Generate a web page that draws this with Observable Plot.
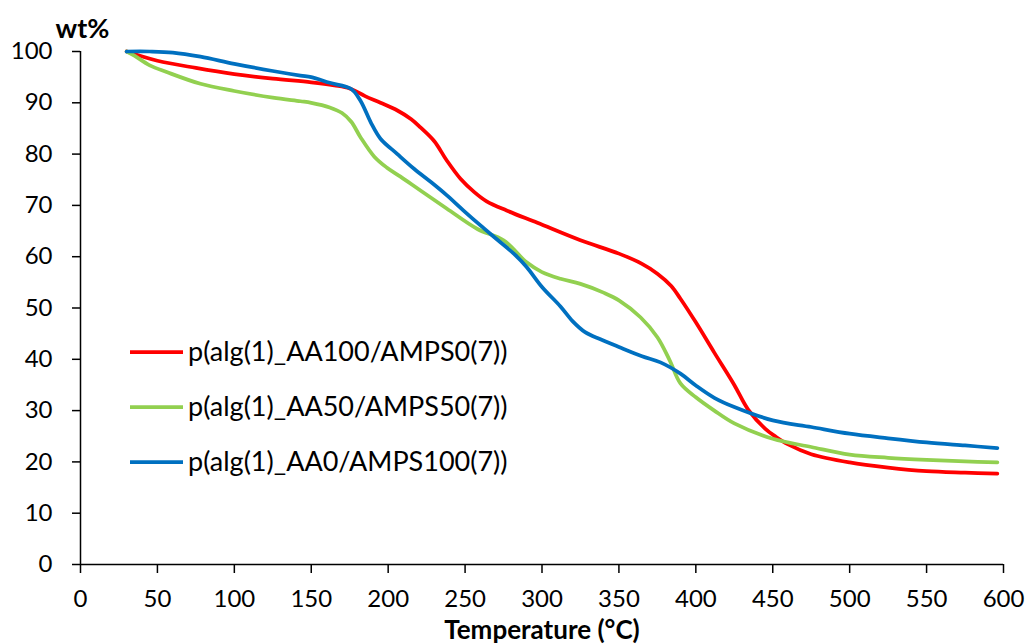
<!DOCTYPE html>
<html><head><meta charset="utf-8">
<script src="https://cdn.jsdelivr.net/npm/d3@7"></script>
<script src="https://cdn.jsdelivr.net/npm/@observablehq/plot@0.6"></script>
<style>body{margin:0;background:#fff} #chart{width:1027px;height:644px}</style>
</head><body><div id="chart"></div>
<script>
const seriesNames = ["p(alg(1)_AA100/AMPS0(7))", "p(alg(1)_AA50/AMPS50(7))", "p(alg(1)_AA0/AMPS100(7))"];
const colors = ["#FF0000", "#92D050", "#0070C0"];
const xTicks = [0, 50, 100, 150, 200, 250, 300, 350, 400, 450, 500, 550, 600];
const yTicks = [0, 10, 20, 30, 40, 50, 60, 70, 80, 90, 100];

const redT = [30, 50, 75, 100, 125, 150, 165, 175, 185, 195, 206, 215, 221, 230, 238, 247, 256, 264, 277, 297, 325, 350, 365, 375, 384, 390, 400, 412, 425, 434, 445, 452, 460, 475, 500, 525, 550, 575, 596];
const redW = [100, 98.2, 96.8, 95.6, 94.7, 94.0, 93.4, 92.8, 91.3, 90.0, 88.5, 86.8, 85.2, 82.5, 78.8, 75.2, 72.6, 70.8, 69.0, 66.6, 63.2, 60.6, 58.6, 56.7, 54.3, 51.8, 47.2, 41.3, 35.0, 30.2, 26.5, 24.9, 23.4, 21.5, 19.9, 18.9, 18.2, 17.9, 17.7];

const greenT = [30, 35, 45, 56, 78, 100, 125, 143, 150, 162, 170, 176, 182, 191, 199, 208, 221, 238, 258, 275, 290, 300, 312, 325, 340, 350, 364, 375, 383, 390, 400, 412, 425, 450, 475, 500, 525, 550, 575, 596];
const greenW = [100, 99.2, 97.3, 96.0, 93.7, 92.3, 91.0, 90.3, 90.0, 89.1, 88.0, 86.3, 83.3, 79.5, 77.4, 75.6, 72.9, 69.4, 65.4, 63.2, 58.9, 57.0, 55.7, 54.7, 53.0, 51.5, 48.2, 44.3, 39.8, 35.3, 32.6, 30.0, 27.5, 24.5, 22.9, 21.4, 20.8, 20.4, 20.1, 19.9];

const blueT = [30, 45, 60, 78, 100, 125, 143, 150, 162, 176, 182, 189, 195, 206, 217, 228, 238, 249, 260, 271, 282, 290, 300, 312, 320, 328, 338, 350, 365, 377, 390, 400, 412, 425, 450, 475, 500, 525, 550, 575, 596];
const blueW = [100, 100, 99.8, 99.0, 97.6, 96.2, 95.3, 95.0, 93.9, 92.7, 90.4, 86.0, 83.0, 80.0, 77.1, 74.5, 72.0, 69.0, 66.1, 63.3, 60.5, 58.0, 54.1, 50.3, 47.4, 45.3, 43.9, 42.4, 40.6, 39.4, 37.2, 34.9, 32.5, 30.7, 28.1, 26.8, 25.5, 24.6, 23.8, 23.2, 22.7];

const seriesT = [redT, greenT, blueT];
const seriesW = [redW, greenW, blueW];
const data = [];
seriesNames.forEach((name, i) => {
  seriesT[i].forEach((t, j) => data.push({series: name, t, w: seriesW[i][j]}));
});

const legend = () => {
  const g = d3.create("svg:g").attr("font-family", "Lato").attr("font-size", 27)
    .attr("fill", "#000").attr("text-anchor", "start");
  seriesNames.forEach((name, i) => {
    const y = 352 + i * 55;
    g.append("line").attr("x1", 130).attr("x2", 183).attr("y1", y).attr("y2", y)
      .attr("stroke", colors[i]).attr("stroke-width", 3.75);
    g.append("text").attr("x", 188).attr("y", y).attr("dy", "0.35em").text(name);
  });
  return g.node();
};

const plot = Plot.plot({
  width: 1027, height: 644,
  marginLeft: 80, marginRight: 24, marginTop: 51, marginBottom: 80,
  style: {fontFamily: "Lato", fontSize: "24px", color: "#000", background: "#fff", overflow: "visible"},
  x: {domain: [0, 600]},
  y: {domain: [0, 100]},
  color: {domain: seriesNames, range: colors},
  marks: [
    Plot.axisX({ticks: xTicks, tickSize: 9, tickPadding: 16, label: null, fontSize: 24, strokeWidth: 1.5}),
    Plot.axisY({ticks: yTicks, tickSize: 8, tickPadding: 20, label: null, fontSize: 24, strokeWidth: 1.5}),
    Plot.ruleX([0], {stroke: "#000", strokeWidth: 1.5}),
    Plot.ruleY([0], {stroke: "#000", strokeWidth: 1.5}),
    Plot.line(data, {x: "t", y: "w", z: "series", stroke: "series", strokeWidth: 3.75, curve: "catmull-rom"}),
    Plot.text(["wt%"], {frameAnchor: "top-left", text: d => d, dx: 2, dy: -22, fontWeight: "bold", fontSize: 27, textAnchor: "middle", lineAnchor: "middle"}),
    Plot.text(["Temperature (°C)"], {frameAnchor: "bottom", text: d => d, dy: 66, fontWeight: "bold", fontSize: 26, lineAnchor: "middle"}),
    legend
  ]
});
document.getElementById("chart").appendChild(plot);
</script>
</body></html>
